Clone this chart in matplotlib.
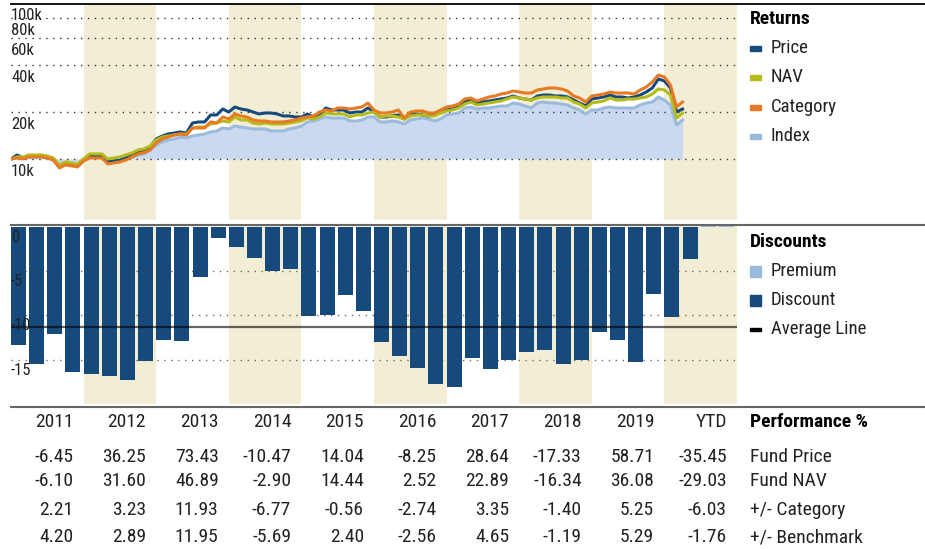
import os
import matplotlib
matplotlib.use('Agg')
import matplotlib.pyplot as plt
import matplotlib.transforms as mtransforms
from matplotlib import font_manager as fm
from matplotlib.lines import Line2D
from matplotlib.patches import Rectangle
import numpy as np

# growth of 10k, monthly, Jan 2011 .. Apr 2020 (values in thousands)
price = [10.0, 10.6, 10.15, 10.45, 10.45, 10.45, 10.3, 10.0, 9.02, 9.43, 9.29, 9.15,
         9.85, 10.45, 10.45, 10.45, 9.57, 9.71, 9.85, 10.15, 10.6, 10.99, 11.42, 11.94,
         13.43, 14.04, 14.46, 14.67, 14.89, 14.67, 17.0, 17.26, 17.26, 19.14, 19.14, 20.9,
         20.0, 21.53, 20.9, 20.6, 20.0, 19.42, 19.71, 19.71, 19.42, 18.86, 18.86, 18.58,
         18.58, 19.42, 18.58, 18.86, 21.22, 20.6, 20.6, 20.6, 19.71, 20.0, 20.0, 21.22,
         20.0, 18.58, 18.58, 18.86, 19.14, 18.04, 19.14, 19.42, 19.14, 18.86, 19.14, 20.0,
         20.6, 20.9, 21.53, 23.18, 23.87, 22.84, 23.18, 23.52, 23.87, 24.23, 24.59, 25.33,
         24.59, 24.23, 23.87, 25.33, 25.7, 25.7, 25.33, 25.33, 24.96, 23.87, 22.84, 21.85,
         24.23, 24.59, 24.96, 25.7, 24.96, 24.96, 24.59, 24.96, 25.7, 26.86, 28.5, 32.54,
         31.6, 28.5, 20.0, 20.9]
nav = [10.0, 10.3, 10.3, 10.61, 10.61, 10.61, 10.45, 10.15, 9.15, 9.57, 9.43, 9.29,
       10.0, 10.77, 10.77, 10.77, 10.0, 10.15, 10.3, 10.61, 10.93, 11.42, 11.59, 12.11,
       13.23, 13.83, 14.04, 14.25, 14.46, 14.46, 15.8, 16.03, 16.03, 16.76, 17.0, 17.51,
       17.26, 18.58, 17.78, 17.78, 17.0, 16.76, 17.0, 16.76, 16.76, 16.76, 17.0, 17.26,
       17.51, 18.31, 18.04, 18.58, 19.71, 19.42, 19.42, 19.42, 18.58, 19.14, 19.14, 19.71,
       20.0, 18.58, 18.86, 18.86, 18.58, 18.04, 18.86, 19.14, 19.14, 18.86, 18.86, 19.71,
       20.3, 20.6, 21.22, 22.5, 23.18, 22.17, 22.5, 22.84, 23.18, 23.52, 24.23, 24.96,
       24.59, 24.23, 23.87, 24.59, 24.96, 24.96, 24.96, 24.59, 24.59, 23.18, 22.5, 21.22,
       22.84, 23.18, 23.52, 24.59, 23.87, 23.87, 24.23, 24.23, 24.59, 24.96, 26.08, 28.08,
       27.67, 25.7, 18.31, 19.71]
category = [10.0, 10.15, 10.0, 10.3, 10.3, 10.3, 10.15, 9.85, 8.76, 9.15, 9.02, 8.89,
            9.71, 10.15, 10.15, 10.15, 9.29, 9.43, 9.57, 9.85, 10.3, 10.77, 10.98, 11.42,
            12.66, 13.43, 13.83, 14.25, 14.46, 14.25, 15.8, 15.8, 15.8, 17.26, 17.0, 18.58,
            18.04, 19.42, 18.86, 18.58, 17.78, 17.51, 17.51, 17.26, 17.26, 17.26, 17.51, 17.78,
            18.31, 18.58, 18.86, 20.0, 20.6, 20.3, 21.22, 21.22, 20.9, 21.22, 21.53, 22.84,
            20.6, 19.71, 19.71, 20.0, 20.6, 18.31, 20.0, 20.3, 20.3, 19.71, 19.71, 20.6,
            21.53, 21.85, 22.5, 24.23, 24.59, 23.52, 24.23, 24.96, 25.33, 26.08, 26.47, 27.26,
            26.86, 26.47, 26.47, 27.67, 28.08, 28.5, 28.5, 28.08, 27.26, 25.33, 24.59, 23.18,
            25.33, 25.7, 26.08, 26.86, 26.47, 26.47, 26.47, 26.08, 27.67, 28.92, 31.13, 34.52,
            33.52, 29.79, 21.53, 23.18]
index = [10.0, 10.15, 10.15, 10.3, 10.3, 10.3, 10.15, 9.85, 8.89, 9.43, 9.29, 9.15,
         9.71, 10.3, 10.3, 10.3, 9.43, 9.57, 9.71, 10.0, 10.3, 10.61, 10.77, 11.42,
         12.29, 12.85, 13.23, 13.43, 13.83, 13.63, 14.04, 14.25, 14.46, 14.89, 15.12, 15.8,
         15.57, 16.27, 16.03, 15.8, 15.57, 15.57, 15.57, 15.12, 15.12, 15.12, 15.57, 15.8,
         16.27, 17.26, 17.51, 18.04, 18.58, 18.31, 18.31, 18.31, 17.51, 17.51, 17.78, 18.58,
         18.58, 17.26, 17.26, 17.51, 17.26, 16.76, 17.78, 18.04, 18.31, 18.04, 17.51, 18.04,
         19.14, 19.42, 19.71, 21.22, 21.53, 20.9, 21.22, 21.22, 21.53, 21.85, 21.85, 22.84,
         22.5, 21.85, 21.22, 22.84, 23.18, 22.84, 22.84, 22.5, 22.17, 21.22, 20.6, 19.42,
         20.6, 20.6, 21.22, 21.53, 21.22, 21.22, 21.22, 21.22, 22.17, 22.84, 23.18, 24.96,
         23.87, 22.17, 16.51, 17.78]

# quarterly premium / discount (%)
discount = [-13.3, -15.5, -12.1, -16.4, -16.6, -16.8, -17.3, -15.1, -12.8, -12.9,
            -5.7, -1.3, -2.3, -3.5, -5.0, -4.8, -10.1, -10.0, -7.7, -9.5,
            -13.0, -14.6, -15.9, -17.7, -18.1, -14.8, -16.0, -15.0, -14.1, -13.9,
            -15.5, -15.0, -11.9, -12.8, -15.3, -7.6, -10.2, -3.6, 0.12, 0.12]
avg_discount = -11.3

years = ['2011', '2012', '2013', '2014', '2015', '2016', '2017', '2018', '2019', 'YTD']
fund_price = [-6.45, 36.25, 73.43, -10.47, 14.04, -8.25, 28.64, -17.33, 58.71, -35.45]
fund_nav = [-6.10, 31.60, 46.89, -2.90, 14.44, 2.52, 22.89, -16.34, 36.08, -29.03]
vs_category = [2.21, 3.23, 11.93, -6.77, -0.56, -2.74, 3.35, -1.40, 5.25, -6.03]
vs_benchmark = [4.20, 2.89, 11.95, -5.69, 2.40, -2.56, 4.65, -1.19, 5.29, -1.76]

c_price = '#174a7c'
c_nav = '#b4bc1c'
c_cat = '#e87a24'
c_index = '#9bbbdd'
c_fill = '#cad9f0'
c_band = '#f2eed6'
c_text = '#222222'


# pick a narrow/condensed face if one is installed
def find_face(bold):
    skip = ['italic', 'oblique', 'light', 'thin', 'medium', 'black', 'semi', 'extra', 'heavy']
    for key in ['liberationsansnarrow', 'robotocondensed', 'dejavusanscondensed',
                'opensans_condensed', 'opensanscondensed', 'opensans-cond',
                'notosanscondensed', 'notosans-condensed']:
        for f in fm.fontManager.ttflist:
            base = os.path.basename(f.fname).lower().replace(' ', '')
            if key not in base or any(s in base for s in skip):
                continue
            if ('bold' in base) == bold:
                return f.fname
    return None


reg_file = find_face(False)
bold_file = find_face(True)


def fp(size, bold=False):
    f = bold_file if bold else reg_file
    if f is None:
        p = fm.FontProperties(family='DejaVu Sans', weight='bold' if bold else 'normal')
        p.set_size(size * 0.82)
        return p
    p = fm.FontProperties(fname=f)
    p.set_size(size)
    return p


W, H = 925, 549
fig = plt.figure(figsize=(W / 100, H / 100), dpi=100)


def fx(px):
    return px / W


def fy(py):
    return 1 - py / H


ax1 = fig.add_axes([fx(11), fy(220), fx(737) - fx(11), fy(4) - fy(220)])
ax2 = fig.add_axes([fx(11), fy(406), fx(737) - fx(11), fy(224) - fy(406)])

# ---- returns panel
months = np.arange(len(price)) / 12.0
ax1.set_yscale('log')
ax1.set_xlim(0, 10)
ax1.set_ylim(4.06, 98.5)
for i in range(1, 10, 2):
    ax1.axvspan(i, i + 1, color=c_band, lw=0, zorder=0)
ax1.fill_between(months, index, 10, color=c_fill, lw=0, zorder=1)
for v in [10, 20, 40, 60, 80]:
    ax1.axhline(v, color='#333333', lw=1, ls=(0, (1, 4)), zorder=2)
ax1.plot(months, index, color=c_index, lw=2.2, zorder=3)
ax1.plot(months, price, color=c_price, lw=2.2, zorder=4)
ax1.plot(months, nav, color=c_nav, lw=2.2, zorder=5)
ax1.plot(months, category, color=c_cat, lw=2.2, zorder=6)
lab_tr = mtransforms.offset_copy(
    mtransforms.blended_transform_factory(ax1.transAxes, ax1.transData),
    fig=fig, y=-5, units='dots')
for v, t in [(100, '100k'), (80, '80k'), (60, '60k'), (40, '40k'), (20, '20k'), (10, '10k')]:
    ax1.text(0, v, t, transform=lab_tr, ha='left', va='top', fontproperties=fp(12),
             color=c_text, clip_on=False, zorder=7)
ax1.set_axis_off()

# ---- discounts panel
ax2.set_xlim(0, 10)
ax2.set_ylim(-20.2, 0.3)
for i in range(1, 10, 2):
    ax2.axvspan(i, i + 1, ymin=0.01, ymax=0.99, color=c_band, lw=0, zorder=0)
qx = np.arange(len(discount)) * 0.25
bar_colors = [c_price if d < 0 else c_index for d in discount]
ax2.bar(qx, discount, width=0.207, align='edge', color=bar_colors, lw=0, zorder=2)
for v in [-5, -10, -15]:
    ax2.axhline(v, color='#444444', lw=1, ls=(0, (1, 4)), alpha=0.8, zorder=3)
ax2.axhline(avg_discount, color='black', lw=1.6, alpha=0.6, zorder=4)
lab_tr2 = mtransforms.offset_copy(
    mtransforms.blended_transform_factory(ax2.transAxes, ax2.transData),
    fig=fig, y=-3, units='dots')
for v, t in [(0, '0'), (-5, '-5'), (-10, '-10'), (-15, '-15')]:
    ax2.text(0, v, t, transform=lab_tr2, ha='left', va='top', fontproperties=fp(12),
             color=c_text, clip_on=False, zorder=5)
ax2.set_axis_off()

# border lines running across to the legend side
fig.add_artist(Line2D([fx(11), 1], [fy(4), fy(4)], color='black', lw=1.3))
fig.add_artist(Line2D([fx(11), 1], [fy(224.5), fy(224.5)], color='#666666', lw=1.5))
fig.add_artist(Line2D([fx(11), 1], [fy(406.5), fy(406.5)], color='#666666', lw=1.5))

# ---- legends
fig.text(fx(750), fy(19), 'Returns', fontproperties=fp(14, True), color='black', va='center')
for py, lab, c in [(48, 'Price', c_price), (77, 'NAV', c_nav),
                   (107, 'Category', c_cat), (136, 'Index', c_index)]:
    fig.add_artist(Rectangle((fx(750), fy(py + 2.5)), fx(11), 5 / H, color=c,
                             transform=fig.transFigure))
    fig.text(fx(771), fy(py), lab, fontproperties=fp(13.5), color=c_text, va='center')

fig.text(fx(750), fy(242), 'Discounts', fontproperties=fp(14, True), color='black', va='center')
for py, lab, c in [(271, 'Premium', c_index), (300, 'Discount', c_price)]:
    fig.add_artist(Rectangle((fx(750), fy(py + 5.5)), fx(11), 11 / H, color=c,
                             transform=fig.transFigure))
    fig.text(fx(771), fy(py), lab, fontproperties=fp(13.5), color=c_text, va='center')
fig.add_artist(Rectangle((fx(750), fy(330.5)), fx(11), 3 / H, color='black',
                         transform=fig.transFigure))
fig.text(fx(771), fy(329), 'Average Line', fontproperties=fp(13.5), color=c_text, va='center')

# ---- performance table
tbl_tr = mtransforms.blended_transform_factory(ax2.transData, fig.transFigure)
for i, y in enumerate(years):
    fig.text(i + 1 - 0.14, fy(422), y, transform=tbl_tr, ha='right', va='center',
             fontproperties=fp(14), color=c_text)
fig.text(fx(750), fy(422), 'Performance %', fontproperties=fp(14, True),
         color='black', va='center')
rows = [('Fund Price', fund_price, 457), ('Fund NAV', fund_nav, 481),
        ('+/- Category', vs_category, 510), ('+/- Benchmark', vs_benchmark, 537)]
for name, vals, py in rows:
    for i, v in enumerate(vals):
        fig.text(i + 1 - 0.14, fy(py), '{:.2f}'.format(v), transform=tbl_tr,
                 ha='right', va='center', fontproperties=fp(14), color=c_text)
    fig.text(fx(750), fy(py), name, fontproperties=fp(14), color=c_text, va='center')

fig.savefig('out.png', dpi=100)
